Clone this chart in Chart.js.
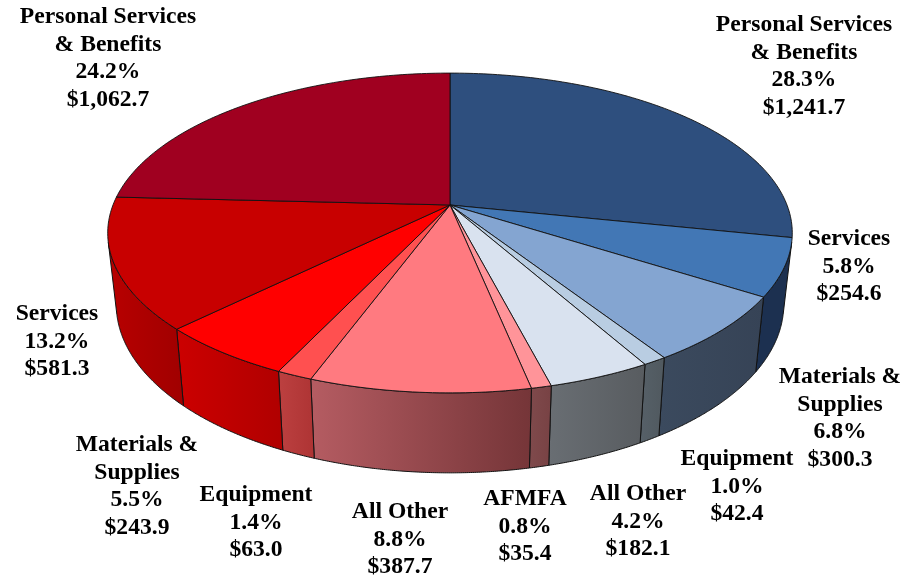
<!DOCTYPE html>
<html><head><meta charset="utf-8"><title>Budget pie</title>
<script src="https://cdn.jsdelivr.net/npm/chart.js"></script>
<style>html,body{margin:0;background:#fff;}canvas{display:block;}</style></head>
<body>
<canvas id="pie" width="909" height="577"></canvas>
<script>
// ==================== DATA ====================
const categories = ['Personal Services\n& Benefits', 'Services', 'Materials &\nSupplies', 'Equipment', 'All Other', 'AFMFA',
    'All Other', 'Equipment', 'Materials &\nSupplies', 'Services', 'Personal Services\n& Benefits'];
const amounts = [1241.7, 254.6, 300.3, 42.4, 182.1, 35.4, 387.7, 63.0, 243.9, 581.3, 1062.7];
const percents = [28.3, 5.8, 6.8, 1.0, 4.2, 0.8, 8.8, 1.4, 5.5, 13.2, 24.2];

// ==================== STYLE ====================
const topColors = ['#2E4F7E', '#4277B5', '#84A5D1', '#B9CDE2', '#D9E2EF', '#FF9499', '#FF7A80', '#FF5050', '#FF0000', '#C80000', '#A00020'];
const wallLight = ['#1C3050', '#1C3050', '#3B4A5E', '#566068', '#696E73', '#7F4A4C', '#B55C62', '#BC4040', '#CC0000', '#B80000', '#A00000'];
const wallDark = ['#1C3050', '#1C3050', '#364356', '#50595F', '#585C60', '#784244', '#753538', '#AE3434', '#B00000', '#A00000', '#A00000'];
// centre x, first line centre y
const labelPos = [[804, 25], [849, 239], [840, 377], [737, 459], [638, 494], [525, 499], [400, 512], [256, 495], [137, 445], [57, 314], [108, 17]];

// ==================== 3D GEOMETRY ====================
const APEX_X = 450, APEX_Y = 205, RX = 337, RY = 155, TILT = 0.175;

function rimPoint(angle) {
    const u = Math.cos(angle), v = Math.sin(angle), w = 1 - TILT * v;
    return [APEX_X + RX * u / w, APEX_Y + RY * v / w];
}
function basePoint(angle) {
    const p = rimPoint(angle);
    return [APEX_X + (p[0] - APEX_X) * 0.975, p[1] + 70 + (p[1] - APEX_Y) * 0.053];
}
function wallVisible(a, b) {
    const p = [rimPoint(a), rimPoint(b), basePoint(b), basePoint(a)];
    let area = 0;
    for (let i = 0; i < 4; i++) {
        const q = p[(i + 1) % 4];
        area += p[i][0] * q[1] - q[0] * p[i][1];
    }
    return area < 0;
}

class Arc3D extends Chart.ArcElement {
    static id = 'arc3d';
    draw(ctx) {
        const steps = Math.max(2, Math.ceil((this.endAngle - this.startAngle) * 60));
        ctx.save();
        ctx.beginPath();
        ctx.moveTo(APEX_X, APEX_Y);
        for (let i = 0; i <= steps; i++) {
            const p = rimPoint(this.startAngle + (this.endAngle - this.startAngle) * i / steps);
            ctx.lineTo(p[0], p[1]);
        }
        ctx.closePath();
        ctx.fillStyle = this.options.backgroundColor;
        ctx.fill();
        ctx.strokeStyle = '#111';
        ctx.lineWidth = 0.9;
        ctx.lineJoin = 'round';
        ctx.stroke();
        ctx.restore();
    }
    drawWall(ctx, index) {
        const step = 0.005;
        const angles = [];
        for (let a = this.startAngle; a < this.endAngle; a += step) {
            if (wallVisible(a, Math.min(a + step, this.endAngle))) {
                if (!angles.length) angles.push(a);
                angles.push(Math.min(a + step, this.endAngle));
            }
        }
        if (angles.length < 2) return;
        const top = angles.map(rimPoint), base = angles.map(basePoint);
        const xs = top.concat(base).map(p => p[0]);
        const grad = ctx.createLinearGradient(Math.min(...xs), 0, Math.max(...xs), 0);
        grad.addColorStop(0, wallLight[index]);
        grad.addColorStop(1, wallDark[index]);
        ctx.save();
        ctx.beginPath();
        top.forEach((p, i) => i ? ctx.lineTo(p[0], p[1]) : ctx.moveTo(p[0], p[1]));
        base.reverse().forEach(p => ctx.lineTo(p[0], p[1]));
        ctx.closePath();
        ctx.fillStyle = grad;
        ctx.fill();
        ctx.strokeStyle = '#111';
        ctx.lineWidth = 1;
        ctx.lineJoin = 'round';
        ctx.stroke();
        ctx.restore();
    }
}

class Pie3DController extends Chart.PieController {
    static id = 'pie3d';
    static defaults = { dataElementType: 'arc3d' };
    draw() {
        const meta = this.getMeta();
        meta.data.forEach((arc, i) => arc.drawWall(this.chart.ctx, i));
        super.draw();
    }
}
Chart.register(Arc3D, Pie3DController);

// ==================== LABELS ====================
const labelPlugin = {
    id: 'sliceLabels',
    afterDatasetsDraw(chart) {
        const ctx = chart.ctx;
        ctx.save();
        ctx.font = 'bold 23.6px "Liberation Serif"';
        ctx.fillStyle = '#000';
        ctx.textAlign = 'center';
        ctx.textBaseline = 'middle';
        categories.forEach((name, i) => {
            const lines = name.split('\n');
            lines.push(percents[i].toFixed(1) + '%');
            lines.push('$' + amounts[i].toLocaleString('en-US', { minimumFractionDigits: 1 }));
            lines.forEach((line, n) => ctx.fillText(line, labelPos[i][0], labelPos[i][1] + n * 27.5));
        });
        ctx.restore();
    }
};

new Chart(document.getElementById('pie'), {
    type: 'pie3d',
    data: { labels: categories, datasets: [{ data: amounts, backgroundColor: topColors }] },
    options: {
        responsive: false,
        animation: false,
        plugins: { legend: { display: false }, tooltip: { enabled: false } }
    },
    plugins: [labelPlugin]
});
</script>
</body></html>
